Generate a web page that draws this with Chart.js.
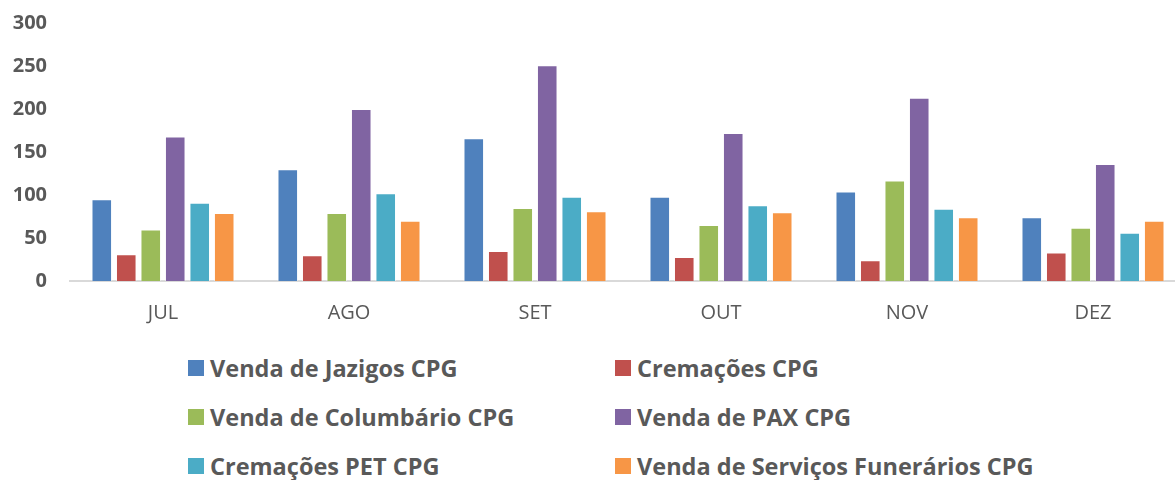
<!DOCTYPE html>
<html>
<head>
<meta charset="utf-8">
<script src="https://cdn.jsdelivr.net/npm/chart.js@4/dist/chart.umd.min.js"></script>
<style>
  body { margin: 0; background: #fff; overflow: hidden; width: 1175px; height: 480px; position: relative; }
  #box { position: absolute; left: 0; top: 0; width: 1190px; height: 340px; }
  #legenda { position: absolute; left: 188px; top: 352px; display: grid; grid-template-columns: 427px auto; row-gap: 17px;
    font-family: "Open Sans", sans-serif; font-weight: bold; font-size: 23.5px; color: #595959; }
  .item { display: flex; align-items: center; height: 32px; white-space: nowrap; }
  .item span.q { width: 16px; height: 16px; margin-right: 6px; display: inline-block; }
</style>
</head>
<body>
<div id="box"><canvas id="grafico"></canvas></div>
<div id="legenda"></div>
<script>
const meses = ['JUL', 'AGO', 'SET', 'OUT', 'NOV', 'DEZ'];
const yTicks = [0, 50, 100, 150, 200, 250, 300];

const nomes = [
  'Venda de Jazigos CPG',
  'Cremações CPG',
  'Venda de Columbário CPG',
  'Venda de PAX CPG',
  'Cremações PET CPG',
  'Venda de Serviços Funerários CPG'
];

const jazigos = [95, 130, 166, 98, 104, 74];
const cremacoes = [31, 30, 35, 28, 24, 33];
const columbario = [60, 79, 85, 65, 117, 62];
const pax = [168, 200, 251, 172, 213, 136];
const cremacoesPet = [91, 102, 98, 88, 84, 56];
const servicos = [79, 70, 81, 80, 74, 70];

const series = [jazigos, cremacoes, columbario, pax, cremacoesPet, servicos];
const cores = ['#4F81BD', '#C0504D', '#9BBB59', '#8064A2', '#4BACC6', '#F79646'];

const datasets = series.map((valores, i) => ({
  label: nomes[i],
  data: valores,
  backgroundColor: cores[i],
  borderColor: 'rgba(255,255,255,0.5)',
  borderWidth: 1,
  categoryPercentage: 0.79,
  barPercentage: 0.84
}));

const ctx = document.getElementById('grafico').getContext('2d');

new Chart(ctx, {
  type: 'bar',
  data: { labels: meses, datasets: datasets },
  options: {
    responsive: true,
    maintainAspectRatio: false,
    animation: false,
    layout: { padding: { top: 23, right: 4, left: 0, bottom: 0 } },
    plugins: { legend: { display: false }, tooltip: { enabled: false } },
    scales: {
      x: {
        grid: { display: false, drawTicks: false },
        border: { display: true, color: '#D9D9D9', width: 2 },
        ticks: { color: '#595959', padding: 20, font: { family: 'Open Sans', size: 20 } },
        afterFit: s => { s.height = 59; }
      },
      y: {
        min: 0,
        max: 300,
        afterBuildTicks: s => { s.ticks = yTicks.map(v => ({ value: v })); },
        grid: { display: false, drawTicks: false },
        border: { display: false },
        ticks: { color: '#595959', padding: 23, font: { family: 'Open Sans', size: 20, weight: 'bold' } },
        afterFit: s => { s.width = 70; s.paddingTop = 0; s.paddingBottom = 0; }
      }
    }
  }
});

// legenda em duas colunas
const leg = document.getElementById('legenda');
nomes.forEach((nome, i) => {
  const d = document.createElement('div');
  d.className = 'item';
  d.innerHTML = `<span class="q" style="background:${cores[i]}"></span>${nome}`;
  leg.appendChild(d);
});
</script>
</body>
</html>
